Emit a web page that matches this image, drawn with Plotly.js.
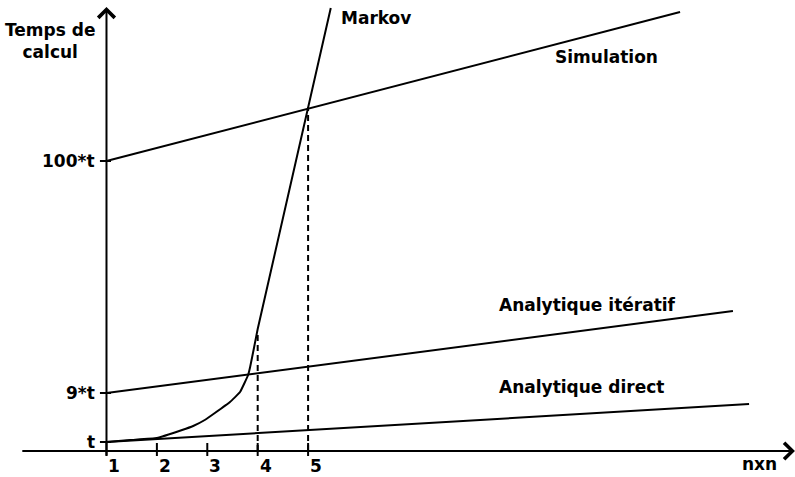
<!DOCTYPE html>
<html>
<head>
<meta charset="utf-8">
<script src="https://cdn.plot.ly/plotly-3.0.1.min.js"></script>
<style>html,body{margin:0;padding:0;background:#fff;}#chart{width:795px;height:477px;}</style>
</head>
<body>
<div id="chart"></div>
<script>
// Schematic values (x in n×n units, y in arbitrary "temps" units)
const tickX = [1, 2, 3, 4, 5];
const tickXLabels = ['1', '2', '3', '4', '5'];
const tickY = [9, 58, 290];
const tickYLabels = ['t', '9*t', '100*t'];

const directX = [1, 13.75];
const directY = [9, 47];
const iterX = [1, 13.43];
const iterY = [58, 140];
const simX = [1, 12.38];
const simY = [290, 439];
const markovX = [1, 1.47, 2.0, 2.5, 2.72, 2.95, 3.15, 3.45, 3.65, 3.81, 3.85, 3.93, 4.0, 5.45];
const markovY = [9, 11, 13, 21, 25, 31, 38, 49, 59, 76, 84, 104, 122, 443];
const dash4X = [4, 4];
const dash4Y = [0, 119];
const dash5X = [5, 5];
const dash5Y = [0, 344];

const seriesLabels = ['Markov', 'Simulation', 'Analytique itératif', 'Analytique direct'];

const FONT = 'DejaVu Sans';
const line = {color: '#000', width: 2};
const traces = [];
function add(x, y, l) {
  traces.push({x: x, y: y, mode: 'lines', line: l || line, hoverinfo: 'skip', showlegend: false, type: 'scatter'});
}
add(directX, directY);
add(iterX, iterY);
add(simX, simY);
add(markovX, markovY, {color: '#000', width: 2, shape: 'spline', smoothing: 0.3});
add(dash4X, dash4Y, {color: '#000', width: 2, dash: '6px,4px'});
add(dash5X, dash5Y, {color: '#000', width: 2, dash: '6px,4px'});
// x axis line
add([0.375, 14.3], [0, 0]);
// tick marks
tickX.forEach(function (v) { add([v, v], [-5, 8], {color: '#000', width: 2}); });
tickY.forEach(function (v) { add([0.87, 1.09], [v, v], {color: '#000', width: 2}); });

const tf = {family: FONT, size: 17, color: '#000', weight: 'bold'};
const ann = [];
// axes with arrows
ann.push({x: 14.66, y: 0, ax: -0.7, ay: 0, axref: 'x', ayref: 'y', xref: 'x', yref: 'y', text: '', showarrow: true, arrowhead: 4, arrowsize: 1.6, arrowwidth: 2, arrowcolor: '#000', standoff: 0});
ann.push({x: 1, y: 444, ax: 1, ay: -6, axref: 'x', ayref: 'y', xref: 'x', yref: 'y', text: '', showarrow: true, arrowhead: 4, arrowsize: 1.6, arrowwidth: 2, arrowcolor: '#000', standoff: 0});
tickX.forEach(function (v, i) {
  ann.push({x: v, y: -15, xshift: 8, text: tickXLabels[i], showarrow: false, xanchor: 'center', yanchor: 'middle', font: tf});
});
tickY.forEach(function (v, i) {
  ann.push({x: 0.81, y: v, text: tickYLabels[i], showarrow: false, xanchor: 'right', yanchor: 'middle', font: tf});
});
ann.push({x: 13.95, y: -13, text: 'nxn', showarrow: false, xanchor: 'center', yanchor: 'middle', font: tf});
ann.push({x: -0.11, y: 410, text: 'Temps de<br>calcul', showarrow: false, xanchor: 'center', yanchor: 'middle', align: 'center', font: tf});
ann.push({x: 5.61, y: 433, text: seriesLabels[0], showarrow: false, xanchor: 'left', yanchor: 'middle', font: tf});
ann.push({x: 9.86, y: 394, text: seriesLabels[1], showarrow: false, xanchor: 'left', yanchor: 'middle', font: tf});
ann.push({x: 8.75, y: 146, text: seriesLabels[2], showarrow: false, xanchor: 'left', yanchor: 'middle', font: tf});
ann.push({x: 8.75, y: 64, text: seriesLabels[3], showarrow: false, xanchor: 'left', yanchor: 'middle', font: tf});

const layout = {
  width: 795, height: 477,
  margin: {l: 0, r: 0, t: 0, b: 0},
  paper_bgcolor: '#fff', plot_bgcolor: '#fff',
  xaxis: {range: [-1.113, 14.661], visible: false, fixedrange: true},
  yaxis: {range: [-26, 451], visible: false, fixedrange: true},
  annotations: ann,
  showlegend: false
};
Plotly.newPlot('chart', traces, layout, {staticPlot: true, displayModeBar: false});
</script>
</body>
</html>
